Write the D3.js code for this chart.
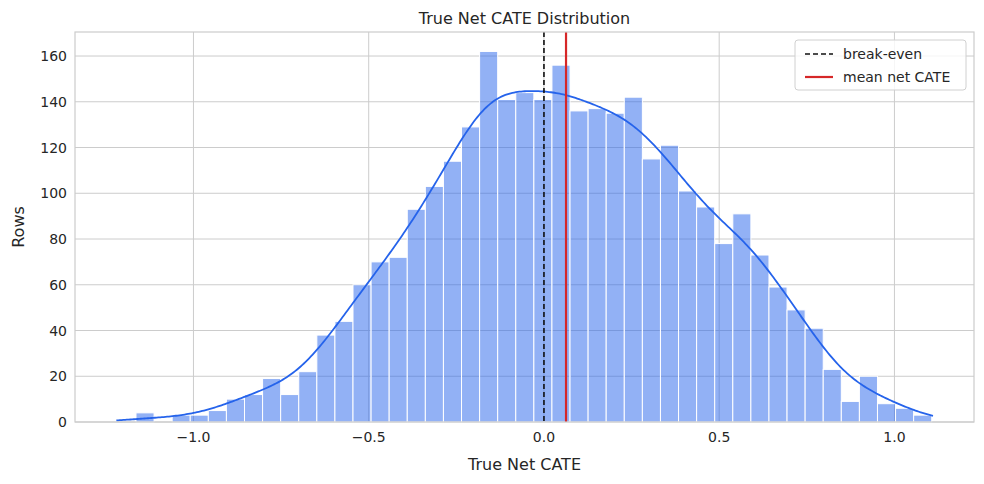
<!DOCTYPE html><html><head><meta charset="utf-8"><script src="https://cdn.jsdelivr.net/npm/d3@7"></script>
<style>body{margin:0;background:#fff}text{font-family:"DejaVu Sans",sans-serif;fill:#262626}</style></head><body><svg id="c" width="984" height="484"></svg>
<script>
const binStart=-1.164, binWidth=0.0516;
const counts=[4,0,3,3,5,10,12,19,12,22,38,44,60,70,72,93,103,114,129,162,141,144,141,156,136,137,135,142,115,121,101,94,78,91,73,59,49,41,23,9,20,8,6,3];
const xTicks=[-1,-0.5,0,0.5,1];
const yTicks=[0,20,40,60,80,100,120,140,160];
const breakEven=0, meanNet=0.063;
const svg=d3.select("#c");
const m={l:75,r:974,t:32,b:422};
const x=d3.scaleLinear().domain([-1.338,1.227]).range([m.l,m.r]);
const y=d3.scaleLinear().domain([0,170.5]).range([m.b,m.t]);
const g=svg.append("g");
g.selectAll(".gy").data(yTicks).join("line").attr("x1",m.l).attr("x2",m.r).attr("y1",d=>y(d)).attr("y2",d=>y(d)).attr("stroke","#cccccc");
g.selectAll(".gx").data(xTicks).join("line").attr("y1",m.t).attr("y2",m.b).attr("x1",d=>x(d)).attr("x2",d=>x(d)).attr("stroke","#cccccc");
const bins=counts.map((c,i)=>({x0:binStart+i*binWidth,x1:binStart+(i+1)*binWidth,c}));
g.selectAll(".bar").data(bins.filter(b=>b.c>0)).join("rect").attr("x",d=>x(d.x0)).attr("width",d=>x(d.x1)-x(d.x0)).attr("y",d=>y(d.c)).attr("height",d=>y(0)-y(d.c)).attr("fill","#2563eb").attr("fill-opacity",0.5).attr("stroke","#fff").attr("stroke-width",1);
// KDE from binned counts
const N=d3.sum(counts), h=0.085;
const pts=d3.range(-1.22,1.112,0.005).map(t=>{let s=0;bins.forEach(b=>{const u=(t-(b.x0+b.x1)/2)/h;s+=b.c*Math.exp(-0.5*u*u);});return [t,s/(h*Math.sqrt(2*Math.PI))*binWidth];});
g.append("path").datum(pts).attr("d",d3.line().x(d=>x(d[0])).y(d=>y(d[1]))).attr("fill","none").attr("stroke","#2563eb").attr("stroke-width",1.8);
g.append("line").attr("x1",x(breakEven)).attr("x2",x(breakEven)).attr("y1",m.t).attr("y2",m.b).attr("stroke","#111").attr("stroke-width",1.6).attr("stroke-dasharray","5,3");
g.append("line").attr("x1",x(meanNet)).attr("x2",x(meanNet)).attr("y1",m.t).attr("y2",m.b).attr("stroke","#d62728").attr("stroke-width",2.2);
g.append("rect").attr("x",m.l).attr("y",m.t).attr("width",m.r-m.l).attr("height",m.b-m.t).attr("fill","none").attr("stroke","#cccccc").attr("stroke-width",1.2);
const fmt=d=>d===0?"0.0":d3.format(".1f")(d).replace("-","\u2212");
g.selectAll(".xl").data(xTicks).join("text").attr("x",d=>x(d)).attr("y",m.b+20).attr("text-anchor","middle").attr("font-size",14).text(fmt);
g.selectAll(".yl").data(yTicks).join("text").attr("x",m.l-8).attr("y",d=>y(d)+5).attr("text-anchor","end").attr("font-size",14).text(d=>d);
svg.append("text").attr("x",(m.l+m.r)/2).attr("y",24).attr("text-anchor","middle").attr("font-size",16).text("True Net CATE Distribution");
svg.append("text").attr("x",(m.l+m.r)/2).attr("y",470).attr("text-anchor","middle").attr("font-size",16).text("True Net CATE");
svg.append("text").attr("transform",`translate(24,${(m.t+m.b)/2}) rotate(-90)`).attr("text-anchor","middle").attr("font-size",16).text("Rows");
const L=svg.append("g").attr("transform","translate(795,40)");
L.append("rect").attr("width",171).attr("height",50).attr("rx",3).attr("fill","#fff").attr("fill-opacity",0.8).attr("stroke","#d0d0d0");
L.append("line").attr("x1",10).attr("x2",38).attr("y1",14).attr("y2",14).attr("stroke","#111").attr("stroke-width",1.6).attr("stroke-dasharray","5,3");
L.append("line").attr("x1",10).attr("x2",38).attr("y1",37).attr("y2",37).attr("stroke","#d62728").attr("stroke-width",2.2);
L.append("text").attr("x",48).attr("y",19).attr("font-size",14).text("break-even");
L.append("text").attr("x",48).attr("y",42).attr("font-size",14).text("mean net CATE");
</script></body></html>
